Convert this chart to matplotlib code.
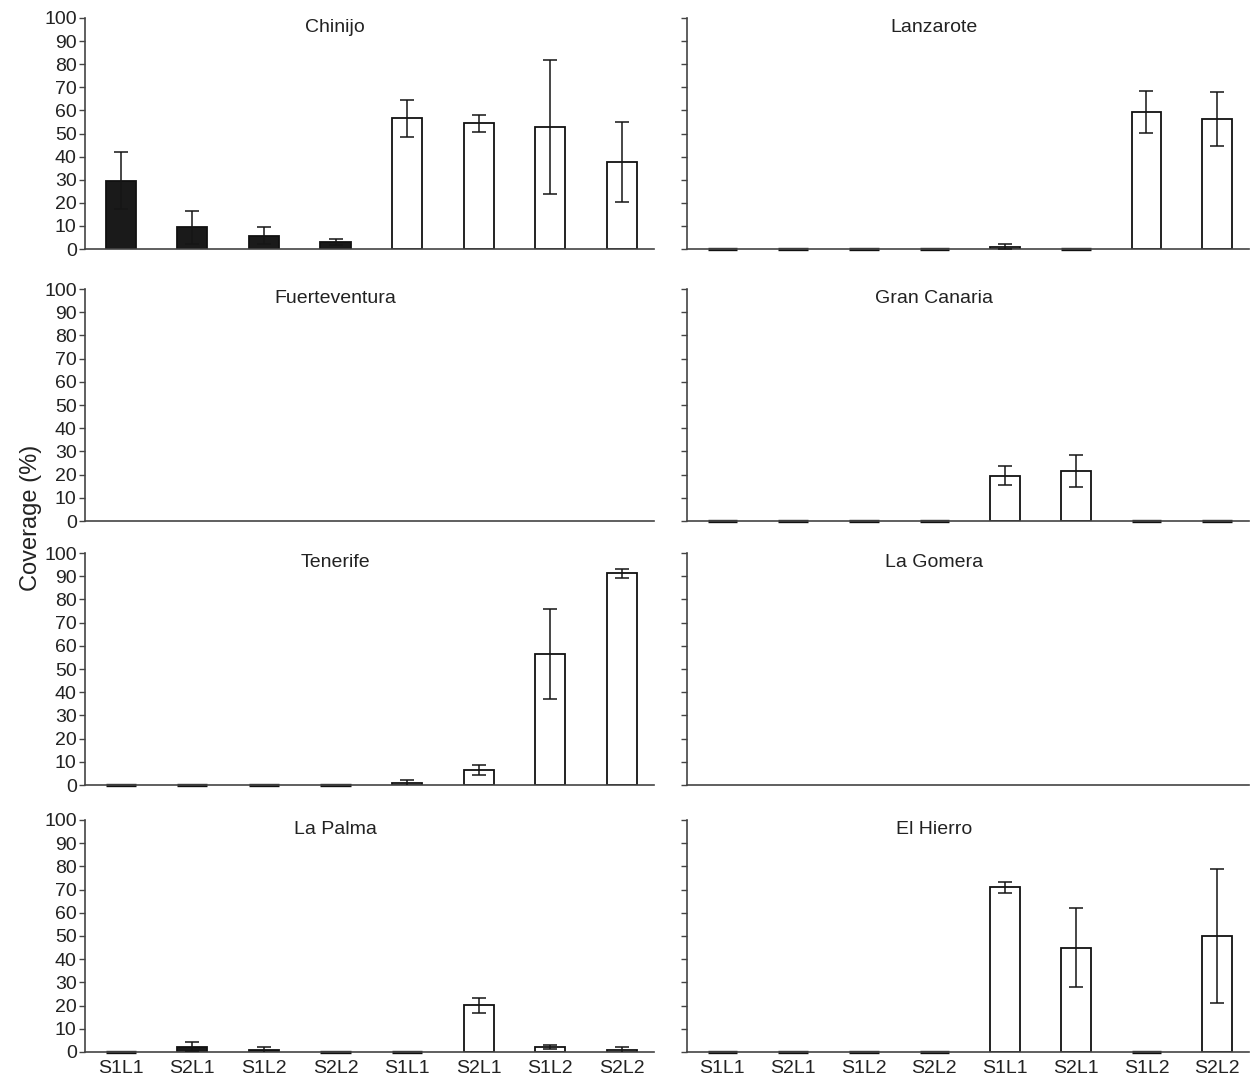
import numpy as np
import matplotlib
matplotlib.use("Agg")
import matplotlib.pyplot as plt

plt.rcParams['font.family'] = ['Liberation Sans', 'DejaVu Sans']

# bar labels (first four = black group, last four = white group)
labels = ['S1L1', 'S2L1', 'S1L2', 'S2L2', 'S1L1', 'S2L1', 'S1L2', 'S2L2']
nan = np.nan

# mean coverage (%) and error (sd) per island
chinijo = [29.6, 9.4, 5.8, 2.9, 56.6, 54.4, 52.8, 37.5]
chinijo_err = [12.2, 7.2, 3.6, 1.3, 8.0, 3.8, 29.0, 17.3]

lanzarote = [0, 0, 0, 0, 1.0, 0, 59.3, 56.3]
lanzarote_err = [0, 0, 0, 0, 1.0, 0, 9.2, 11.7]

fuerteventura = [nan] * 8
fuerteventura_err = [0] * 8

gran_canaria = [0, 0, 0, 0, 19.6, 21.6, 0, 0]
gran_canaria_err = [0, 0, 0, 0, 4.2, 7.0, 0, 0]

tenerife = [0, 0, 0, 0, 0.7, 6.6, 56.5, 91.2]
tenerife_err = [0, 0, 0, 0, 1.5, 2.2, 19.5, 2.0]

la_gomera = [nan] * 8
la_gomera_err = [0] * 8

la_palma = [0, 2.3, 0.7, 0, 0, 20.1, 2.1, 0.7]
la_palma_err = [0, 2.0, 1.5, 0, 0, 3.2, 0.8, 1.5]

el_hierro = [0, 0, 0, 0, 71.0, 45.0, 0, 50.0]
el_hierro_err = [0, 0, 0, 0, 2.3, 17.0, 0, 28.7]

panels = [
    ('Chinijo', chinijo, chinijo_err),
    ('Lanzarote', lanzarote, lanzarote_err),
    ('Fuerteventura', fuerteventura, fuerteventura_err),
    ('Gran Canaria', gran_canaria, gran_canaria_err),
    ('Tenerife', tenerife, tenerife_err),
    ('La Gomera', la_gomera, la_gomera_err),
    ('La Palma', la_palma, la_palma_err),
    ('El Hierro', el_hierro, el_hierro_err),
]

W, H = 1257, 1078
fig = plt.figure(figsize=(W / 100, H / 100), dpi=100)

# axes boxes in pixels
cols = [(85, 654), (687, 1249)]
rows = [(18, 249), (289, 521), (553, 785), (820, 1052)]

face = ['#1a1a1a'] * 4 + ['white'] * 4
x = np.arange(8)

for i, (name, vals, errs) in enumerate(panels):
    r, c = divmod(i, 2)
    x0, x1 = cols[c]
    top, bot = rows[r]
    ax = fig.add_axes([x0 / W, 1 - bot / H, (x1 - x0) / W, (bot - top) / H])

    vals = np.array(vals, dtype=float)
    errs = np.array(errs, dtype=float)
    ok = ~np.isnan(vals)
    nz = ok & (vals > 0)
    zero = ok & (vals == 0)
    if nz.any():
        ax.bar(x[nz], vals[nz], width=0.42, color=[face[k] for k in x[nz]],
               edgecolor='#111111', linewidth=1.3, zorder=2)
    if zero.any():
        # empty categories show up as a short dark dash on the baseline
        ax.bar(x[zero], vals[zero], width=0.42, color='#111111',
               edgecolor='#111111', linewidth=2.4, zorder=2, clip_on=False)
    e = ok & (errs > 0)
    if e.any():
        ax.errorbar(x[e], vals[e], yerr=errs[e], fmt='none', ecolor='#151515',
                    elinewidth=1.1, capsize=5, capthick=1.1, zorder=3)

    ax.set_xlim(-0.5, 7.45)
    ax.set_ylim(0, 100)
    ax.set_yticks(np.arange(0, 101, 10))
    for s in ['top', 'right']:
        ax.spines[s].set_visible(False)
    for s in ['left', 'bottom']:
        ax.spines[s].set_color('#444444')
        ax.spines[s].set_linewidth(1.2)
    ax.tick_params(axis='y', direction='out', length=4, width=1, color='#444444',
                   labelsize=14, labelcolor='#222222', pad=2)
    ax.tick_params(axis='x', length=0, labelsize=14, labelcolor='#222222', pad=6)
    if c == 1:
        ax.set_yticklabels([])
    ax.set_xticks(x)
    if r == 3:
        ax.set_xticklabels(labels)
    else:
        ax.set_xticklabels([])
    ax.text(0.44, 0.995, name, transform=ax.transAxes, ha='center', va='top',
            fontsize=14, color='#222222')

fig.text(0.025, 0.52, 'Coverage (%)', rotation=90, ha='center', va='center',
         fontsize=17, color='#222222')

fig.savefig('out.png', dpi=100)
